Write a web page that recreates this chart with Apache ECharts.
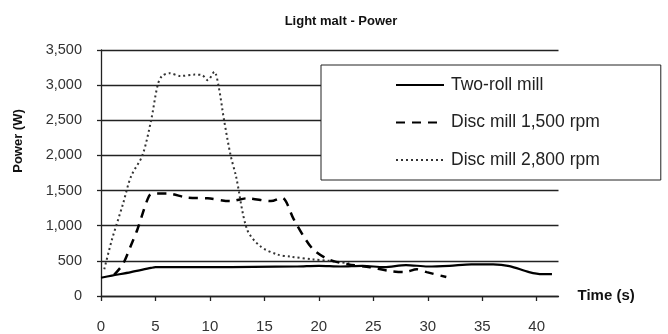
<!DOCTYPE html>
<html>
<head>
<meta charset="utf-8">
<script src="https://cdn.jsdelivr.net/npm/echarts@6/dist/echarts.min.js"></script>
<style>
  html, body { margin: 0; padding: 0; background: #fff; }
  #chart { width: 668px; height: 334px; }
</style>
</head>
<body>
<div id="chart"></div>
<script>
// Power draw over time for light malt, three milling set-ups
const seriesNames = ['Two-roll mill', 'Disc mill 1,500 rpm', 'Disc mill 2,800 rpm'];

// Two-roll mill
const twoRollTime  = [0, 1, 2.75, 4.6, 5, 10, 14, 18, 20, 22, 24, 26, 28, 30, 32, 34, 36, 37.5, 39.3, 40.5, 41.4];
const twoRollPower = [260, 290, 340, 400, 410, 410, 415, 420, 430, 420, 430, 410, 440, 420, 430, 450, 450, 425, 340, 310, 310];

// Disc mill, 1,500 rpm
const disc1500Time  = [1.2, 2, 2.7, 3.35, 4.4, 4.9, 6.1, 7.9, 9.8, 11.9, 13.4, 15.6, 16.6, 17.7, 18.6, 19.5, 20.9, 22.7, 24.7, 26.3, 27.9, 29, 29.9, 31.7];
const disc1500Power = [300, 450, 700, 950, 1420, 1460, 1460, 1400, 1390, 1350, 1390, 1350, 1400, 1090, 850, 660, 520, 450, 410, 360, 340, 380, 340, 270];

// Disc mill, 2,800 rpm
const disc2800Time  = [0.3, 1, 2, 2.75, 3.8, 4.6, 5.2, 5.6, 6.3, 7.3, 8.6, 9.3, 9.8, 10.4, 10.8, 11.3, 11.9, 12.4, 13.4, 14.6, 16.2, 17.4, 19.5, 21, 23];
const disc2800Power = [380, 800, 1300, 1700, 2000, 2500, 3000, 3130, 3170, 3130, 3150, 3140, 3070, 3190, 2980, 2500, 2000, 1700, 950, 710, 590, 560, 520, 500, 460];

// Axis ticks
const xTicks = [0, 5, 10, 15, 20, 25, 30, 35, 40];
const yMax = 3500;
const yStep = 500;

const pairs = (t, v) => t.map((x, i) => [x, v[i]]);

const chart = echarts.init(document.getElementById('chart'), null, { renderer: 'canvas' });

const baseFont = 'Liberation Sans, Arial, sans-serif';
const boldFont = '"Liberation Sans Narrow", "Liberation Sans", Arial, sans-serif';

chart.setOption({
  animation: false,
  backgroundColor: '#ffffff',
  title: {
    text: 'Light malt - Power',
    left: 336,
    top: 10,
    textAlign: 'center',
    textStyle: { fontFamily: boldFont, fontWeight: 'bold', fontSize: 13, color: '#111' }
  },
  graphic: [
    {
      type: 'text',
      x: 18,
      y: 141,
      rotation: Math.PI / 2,
      style: {
        text: 'Power (W)',
        fontFamily: boldFont,
        fontWeight: 'bold',
        fontSize: 13,
        fill: '#111',
        align: 'center',
        verticalAlign: 'middle'
      }
    }
  ],
  grid: { left: 101, right: 109.5, top: 50, bottom: 37, containLabel: false },
  legend: {
    orient: 'vertical',
    left: 321,
    top: 65,
    padding: [11, 61, 11, 74],
    backgroundColor: '#ffffff',
    borderColor: '#222',
    borderWidth: 1,
    itemWidth: 48,
    itemHeight: 18,
    itemGap: 19.5,
    itemStyle: { opacity: 0 },
    textStyle: { fontFamily: baseFont, fontSize: 17.5, lineHeight: 18, color: '#222', padding: [0, 0, 0, 2] },
    data: seriesNames
  },
  xAxis: {
    type: 'value',
    min: 0,
    max: 42,
    interval: 5,
    name: 'Time (s)',
    nameLocation: 'end',
    nameGap: 19,
    nameTextStyle: { fontFamily: boldFont, fontWeight: 'bold', fontSize: 15, color: '#111', verticalAlign: 'middle' },
    axisLine: { show: true, lineStyle: { color: '#222', width: 1.3 } },
    axisTick: { show: true, inside: false, length: 5, lineStyle: { color: '#222', width: 1.3 }, customValues: xTicks },
    axisLabel: { margin: 23, fontFamily: baseFont, fontSize: 15, color: '#333', customValues: xTicks },
    splitLine: { show: false }
  },
  yAxis: {
    type: 'value',
    min: 0,
    max: yMax,
    interval: yStep,
    axisLine: { show: true, lineStyle: { color: '#222', width: 1.3 } },
    axisTick: { show: true, inside: false, length: 4, lineStyle: { color: '#222', width: 1.3 } },
    axisLabel: {
      margin: 19,
      fontFamily: baseFont,
      fontSize: 14.5,
      color: '#333',
      formatter: v => v.toLocaleString('en-US')
    },
    splitLine: { show: true, lineStyle: { color: '#222', width: 1.3 } }
  },
  series: [
    {
      name: seriesNames[0],
      type: 'line',
      data: pairs(twoRollTime, twoRollPower),
      smooth: 0.3,
      symbol: 'none',
      z: 3,
      lineStyle: { color: '#000', width: 2.2, type: 'solid' },
      itemStyle: { color: '#000' }
    },
    {
      name: seriesNames[1],
      type: 'line',
      data: pairs(disc1500Time, disc1500Power),
      smooth: 0.3,
      symbol: 'none',
      z: 4,
      lineStyle: { color: '#000', width: 2.5, type: [9, 7] },
      itemStyle: { color: '#000' }
    },
    {
      name: seriesNames[2],
      type: 'line',
      data: pairs(disc2800Time, disc2800Power),
      smooth: 0.3,
      symbol: 'none',
      z: 2,
      lineStyle: { color: '#333', width: 2, type: [2, 3] },
      itemStyle: { color: '#333' }
    }
  ]
});
</script>
</body>
</html>
